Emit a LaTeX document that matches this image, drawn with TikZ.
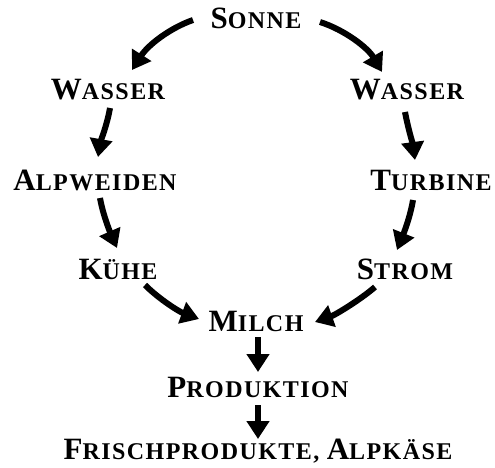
\documentclass[tikz,border=0pt]{standalone}
\usepackage{fontspec}
\setmainfont{Liberation Serif}[LetterSpace=6]
\usetikzlibrary{arrows.meta}
\newcommand\lbl[2]{{\fontsize{31}{31}\selectfont\bfseries #1}{\fontsize{24}{24}\selectfont\bfseries #2}}
\tikzset{
  lab/.style={inner sep=0pt, anchor=base},
  flow/.style={line width=6pt, -{Triangle[width=22pt,length=18pt]}}
}
\begin{document}
\begin{tikzpicture}[x=1pt,y=-1pt]
\useasboundingbox (0,0) rectangle (495,468);
\node[lab] (sonne) at (256,29) {\lbl{S}{ONNE}};
\node[lab] (wl) at (108,100) {\lbl{W}{ASSER}};
\node[lab] (wr) at (407,100) {\lbl{W}{ASSER}};
\node[lab] (alp) at (95,190) {\lbl{A}{LPWEIDEN}};
\node[lab] (tur) at (431,190) {\lbl{T}{URBINE}};
\node[lab] (kuh) at (118,279) {\lbl{K}{ÜHE}};
\node[lab] (str) at (405,279) {\lbl{S}{TROM}};
\node[lab] (mil) at (256,331) {\lbl{M}{ILCH}};
\node[lab] (pro) at (258,397) {\lbl{P}{RODUKTION}};
\node[lab] (fri) at (258,459) {\lbl{F}{RISCHPRODUKTE, }\lbl{A}{LPKÄSE}};

\draw[flow] ([shift={(-63,-9)}]sonne.base) .. controls (170,28) and (148,45) .. ([shift={(24,-30)}]wl.base);
\draw[flow] ([shift={(64,-7)}]sonne.base) .. controls (345,30) and (368,48) .. ([shift={(-25,-28)}]wr.base);
\draw[flow] ([shift={(2,8)}]wl.base) .. controls (107,125) and (101,140) .. ([shift={(3,-33)}]alp.base);
\draw[flow] ([shift={(-2,12)}]wr.base) .. controls (408,128) and (413,145) .. ([shift={(-16,-30)}]tur.base);
\draw[flow] ([shift={(5,8)}]alp.base) .. controls (103,215) and (110,232) .. ([shift={(-1,-31)}]kuh.base);
\draw[flow] ([shift={(-18,10)}]tur.base) .. controls (410,218) and (403,235) .. ([shift={(-8,-29)}]str.base);
\draw[flow] ([shift={(27,6)}]kuh.base) .. controls (160,300) and (180,312) .. ([shift={(-57,-12)}]mil.base);
\draw[flow] ([shift={(-30,8)}]str.base) .. controls (360,300) and (335,315) .. ([shift={(59,-9)}]mil.base);
\draw[flow] ([shift={(2,6)}]mil.base) -- ([shift={(0,-25)}]pro.base);
\draw[flow] ([shift={(0,8)}]pro.base) -- ([shift={(0,-20)}]fri.base);
\end{tikzpicture}
\end{document}
